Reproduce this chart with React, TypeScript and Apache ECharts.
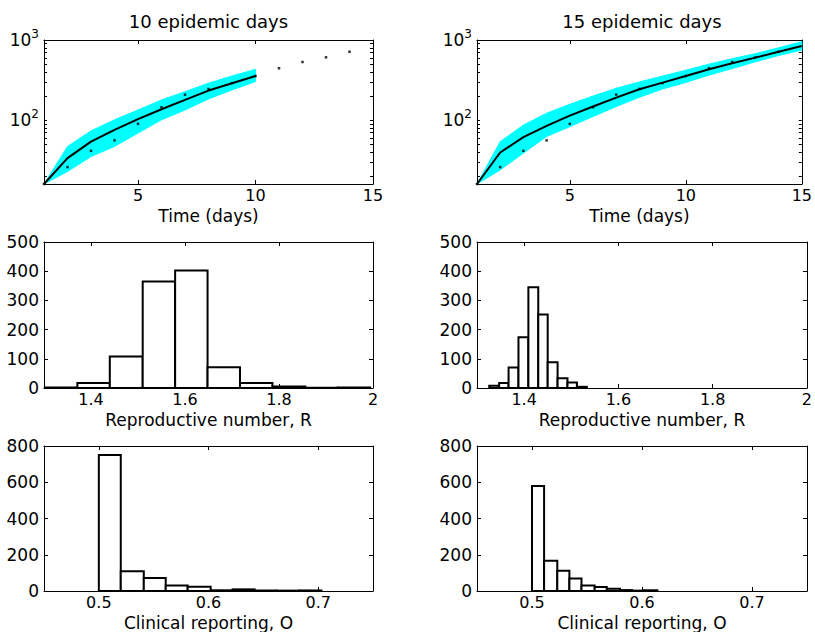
import React, { useEffect, useRef } from "react";
import * as echarts from "echarts";

// ---- data ----
const days = [1, 2, 3, 4, 5, 6, 7, 8, 9, 10, 11, 12, 13, 14, 15];
const observedDays = [1, 2, 3, 4, 5, 6, 7, 8, 9, 10, 11, 12, 13, 14];
const observedCases = [16, 26, 41.5, 56, 90, 145, 208, 245, 290, 356, 444, 532, 608, 714];

// 10 epidemic days fit (days 1..10)
const fit10 = [16, 33.6, 54, 75.7, 103, 137, 179, 234, 289, 356];
const band10Upper = [16, 47, 73.6, 101, 134, 179, 227, 289, 356, 431];
const band10Lower = [16, 22.9, 35.2, 47, 69, 101, 134, 184, 238, 303];

// 15 epidemic days fit (days 1..15)
const fit15 = [16, 39.5, 61.4, 84.9, 114, 148, 191, 243, 294, 356, 432, 513, 603, 714, 842];
const band15Upper = [16, 54, 87, 122, 158, 200, 250, 300, 355, 420, 500, 585, 675, 800, 952];
const band15Lower = [16, 24, 38.8, 62.5, 83, 111, 148, 193, 245, 295, 365, 440, 535, 640, 750];

// histograms of reproductive number R
const rEdges10 = [1.302, 1.371, 1.44, 1.51, 1.579, 1.648, 1.717, 1.786, 1.856, 1.925, 1.994];
const rCounts10 = [2, 17, 108, 365, 402, 71, 17, 5, 1, 2];
const rEdges15 = [1.326, 1.347, 1.367, 1.388, 1.409, 1.43, 1.45, 1.471, 1.492, 1.512, 1.533];
const rCounts15 = [8, 17, 70, 174, 345, 252, 88, 33, 19, 4];

// histograms of clinical reporting O
const oEdges10 = [0.5, 0.52, 0.541, 0.561, 0.581, 0.602, 0.622, 0.642, 0.662, 0.683, 0.703];
const oCounts10 = [751, 109, 72, 31, 24, 4, 9, 3, 2, 3];
const oEdges15 = [0.5, 0.511, 0.523, 0.534, 0.545, 0.557, 0.568, 0.58, 0.591, 0.602, 0.614];
const oCounts15 = [579, 167, 112, 69, 31, 22, 13, 5, 2, 4];

// ticks
const timeTicks = [5, 10, 15];
const logLabelTicks = [100, 1000];
const logTicks = [20, 30, 40, 50, 60, 70, 80, 90, 100, 200, 300, 400, 500, 600, 700, 800, 900, 1000];
const rTicks = [1.4, 1.6, 1.8, 2];
const oTicks = [0.5, 0.6, 0.7];

const titles = ["10 epidemic days", "15 epidemic days"];

const FONT = "DejaVu Sans";
const TICK_SIZE = 16;
const NAME_SIZE = 17;

const grids = [
  { left: 44, top: 40, width: 329, height: 144 },
  { left: 477, top: 40, width: 330, height: 144 },
  { left: 44, top: 242, width: 329, height: 146 },
  { left: 477, top: 242, width: 330, height: 146 },
  { left: 44, top: 446, width: 329, height: 147 },
  { left: 477, top: 446, width: 330, height: 147 },
];

const lineStyle = { color: "#000", width: 1 };

function xAxes(grid: number, cfg: any) {
  const base = {
    gridIndex: grid,
    type: "value",
    min: cfg.min,
    max: cfg.max,
    splitLine: { show: false },
    axisLine: { show: true, onZero: false, lineStyle },
  };
  return [
    {
      ...base,
      position: "bottom",
      name: cfg.name,
      nameLocation: "middle",
      nameGap: 23,
      nameTextStyle: { fontFamily: FONT, fontSize: NAME_SIZE, lineHeight: NAME_SIZE, color: "#000" },
      axisTick: { show: true, inside: true, length: 4, lineStyle, customValues: cfg.ticks },
      axisLabel: {
        show: true,
        margin: 3,
        fontFamily: FONT,
        fontSize: TICK_SIZE,
        lineHeight: TICK_SIZE,
        color: "#000",
        customValues: cfg.ticks,
        formatter: (v: number) => String(Math.round(v * 1000) / 1000),
      },
    },
    {
      ...base,
      position: "top",
      axisTick: { show: true, inside: true, length: 4, lineStyle, customValues: cfg.ticks },
      axisLabel: { show: false },
    },
  ];
}

function yAxesLinear(grid: number, max: number, interval: number) {
  const base = {
    gridIndex: grid,
    type: "value",
    min: 0,
    max,
    interval,
    splitLine: { show: false },
    axisLine: { show: true, onZero: false, lineStyle },
    axisTick: { show: true, inside: true, length: 4, lineStyle },
  };
  return [
    {
      ...base,
      position: "left",
      axisLabel: { show: true, margin: 5, fontFamily: FONT, fontSize: TICK_SIZE + 1, lineHeight: 15, color: "#000" },
    },
    { ...base, position: "right", axisLabel: { show: false } },
  ];
}

function yAxesLog(grid: number) {
  const base = {
    gridIndex: grid,
    type: "log",
    logBase: 10,
    min: 16,
    max: 1000,
    splitLine: { show: false },
    axisLine: { show: true, onZero: false, lineStyle },
    axisTick: { show: true, inside: true, length: 3, lineStyle, customValues: logTicks },
  };
  return [
    {
      ...base,
      position: "left",
      axisLabel: {
        show: true,
        margin: 5,
        color: "#000",
        customValues: logLabelTicks,
        formatter: (v: number) => `{b|10}{s|${Math.round(Math.log10(v))}}`,
        rich: {
          b: { fontFamily: FONT, fontSize: 17, color: "#000" },
          s: { fontFamily: FONT, fontSize: 12, color: "#000", padding: [0, 0, 12, 0] },
        },
      },
    },
    { ...base, position: "right", axisLabel: { show: false } },
  ];
}

function bandSeries(grid: number, upper: number[], lower: number[]) {
  return {
    type: "custom",
    xAxisIndex: grid * 2,
    yAxisIndex: grid * 2,
    z: 1,
    silent: true,
    data: upper.map((v, i) => [days[i], v]),
    encode: { x: 0, y: 1 },
    renderItem: (params: any, api: any) => {
      if (params.dataIndex !== 0) return null;
      const pts: number[][] = [];
      for (let i = 0; i < upper.length; i++) pts.push(api.coord([days[i], upper[i]]));
      for (let i = lower.length - 1; i >= 0; i--) pts.push(api.coord([days[i], lower[i]]));
      return {
        type: "polygon",
        shape: { points: pts },
        style: { fill: "#00ffff", stroke: "#00ffff", lineWidth: 1 },
      };
    },
  };
}

function fitSeries(grid: number, fit: number[]) {
  return {
    type: "line",
    xAxisIndex: grid * 2,
    yAxisIndex: grid * 2,
    z: 3,
    symbol: "none",
    silent: true,
    lineStyle: { color: "#000", width: 2 },
    data: fit.map((v, i) => [days[i], v]),
  };
}

function obsSeries(grid: number) {
  return {
    type: "scatter",
    xAxisIndex: grid * 2,
    yAxisIndex: grid * 2,
    z: 4,
    symbol: "rect",
    symbolSize: 2.5,
    silent: true,
    itemStyle: { color: "#000" },
    data: observedDays.map((d, i) => [d, observedCases[i]]),
  };
}

function histSeries(grid: number, edges: number[], counts: number[]) {
  return {
    type: "custom",
    xAxisIndex: grid * 2,
    yAxisIndex: grid * 2,
    silent: true,
    data: counts.map((c, i) => [edges[i], edges[i + 1], c]),
    encode: { x: [0, 1], y: 2 },
    renderItem: (params: any, api: any) => {
      const p0 = api.coord([api.value(0), 0]);
      const p1 = api.coord([api.value(1), api.value(2)]);
      return {
        type: "rect",
        shape: { x: p0[0], y: p1[1], width: p1[0] - p0[0], height: p0[1] - p1[1] },
        style: { fill: "#fff", stroke: "#000", lineWidth: 2 },
      };
    },
  };
}

export default function App() {
  const ref = useRef<HTMLDivElement>(null);
  useEffect(() => {
    if (!ref.current) return;
    const chart = echarts.init(ref.current, undefined, { renderer: "svg" });
    const timeCfg = { min: 1, max: 15, ticks: timeTicks, name: "Time (days)" };
    const rCfg = { min: 1.3, max: 2, ticks: rTicks, name: "Reproductive number, R" };
    const oCfg = { min: 0.45, max: 0.75, ticks: oTicks, name: "Clinical reporting, O" };
    const option: any = {
      animation: false,
      backgroundColor: "#fff",
      grid: grids.map((g) => ({ ...g, containLabel: false })),
      xAxis: [
        ...xAxes(0, timeCfg),
        ...xAxes(1, timeCfg),
        ...xAxes(2, rCfg),
        ...xAxes(3, rCfg),
        ...xAxes(4, oCfg),
        ...xAxes(5, oCfg),
      ],
      yAxis: [
        ...yAxesLog(0),
        ...yAxesLog(1),
        ...yAxesLinear(2, 500, 100),
        ...yAxesLinear(3, 500, 100),
        ...yAxesLinear(4, 800, 200),
        ...yAxesLinear(5, 800, 200),
      ],
      graphic: [
        {
          type: "text",
          x: 208.5,
          y: 21.5,
          style: { text: titles[0], fill: "#000", fontFamily: FONT, fontSize: 18, align: "center", verticalAlign: "middle" },
        },
        {
          type: "text",
          x: 642,
          y: 21.5,
          style: { text: titles[1], fill: "#000", fontFamily: FONT, fontSize: 18, align: "center", verticalAlign: "middle" },
        },
      ],
      series: [
        bandSeries(0, band10Upper, band10Lower),
        fitSeries(0, fit10),
        obsSeries(0),
        bandSeries(1, band15Upper, band15Lower),
        fitSeries(1, fit15),
        obsSeries(1),
        histSeries(2, rEdges10, rCounts10),
        histSeries(3, rEdges15, rCounts15),
        histSeries(4, oEdges10, oCounts10),
        histSeries(5, oEdges15, oCounts15),
      ],
    };
    chart.setOption(option);
    return () => chart.dispose();
  }, []);
  return (
    <div
      ref={ref}
      style={{ position: "absolute", left: 0, top: 0, width: 815, height: 632, background: "#fff" }}
    />
  );
}
